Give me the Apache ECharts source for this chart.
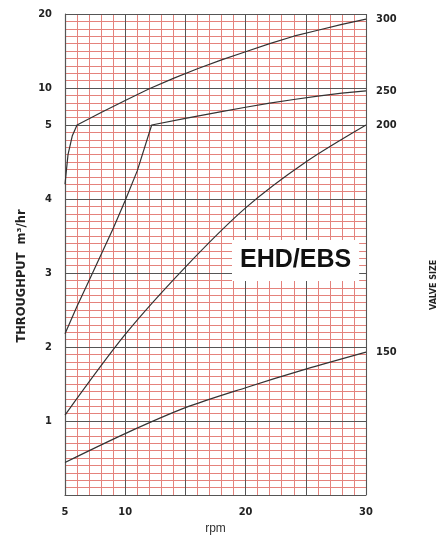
<!DOCTYPE html>
<html><head><meta charset="utf-8">
<script src="https://cdn.jsdelivr.net/npm/echarts@6/dist/echarts.min.js"></script>
<style>html,body{margin:0;padding:0;background:#fff}#c{width:441px;height:543px}</style>
</head><body><div id="c"></div>
<script>
// rpm values and throughput (m³/hr) for each valve size
const rpm300 = [5, 5.25, 5.6, 6, 8, 10, 12, 14, 16, 18, 20, 22, 24, 26, 28, 30];
const flow300 = [4.2, 4.6, 4.85, 5.0, 6.7, 8.3, 9.9, 11.3, 12.6, 13.8, 14.9, 16.0, 17.0, 17.8, 18.6, 19.3];
const rpm250 = [5, 6, 7, 8, 9, 10, 11, 12.2, 15, 18, 20, 22, 24, 26, 28, 30];
const flow250 = [2.18, 2.55, 2.9, 3.25, 3.6, 3.98, 4.38, 5.0, 5.9, 6.8, 7.4, 7.95, 8.45, 8.9, 9.3, 9.6];
const rpm200 = [5, 10, 15, 20, 25, 30];
const flow200 = [1.08, 2.17, 3.08, 3.88, 4.5, 5.0];
const rpm150 = [5, 10, 15, 20, 25, 30];
const flow150 = [0.44, 0.83, 1.18, 1.45, 1.7, 1.93];
const sizes = ['300', '250', '200', '150'];
const xTickLabels = [5, 10, 20, 30];
const yTickLabels = [1, 2, 3, 4, 5, 10, 20];
const majorFlows = [1, 2, 3, 4, 5, 10, 20];

// chart paper scale: linear 1/unit up to 5, then 0.1/unit above 5
function toScale(v) { return v <= 5 ? v : 5 + (v - 5) / 10; }
function fromScale(p) { return p <= 5 ? p : 5 + (p - 5) * 10; }

const FONT = "'Liberation Sans Narrow', 'DejaVu Sans Condensed', sans-serif";
const RED = '#e4827c';
const DARK = '#555';

function mk(name, xs, ys, smooth) {
  return {
    type: 'line', name: name, xAxisIndex: 0, yAxisIndex: 0,
    data: xs.map((x, i) => [x, toScale(ys[i])]),
    showSymbol: false, symbol: 'none', silent: true,
    lineStyle: { color: '#333', width: 1.2 },
    smooth: smooth,
    endLabel: { show: true, formatter: name, color: '#222', fontFamily: FONT, fontWeight: 'bold', fontSize: 11, distance: 10 },
    z: 5
  };
}

const chart = echarts.init(document.getElementById('c'));
const option = {
  animation: false,
  grid: { left: 65, top: 14, width: 301, height: 481, containLabel: false },
  xAxis: [
    { type: 'value', min: 5, max: 30, interval: 5,
      axisLine: { show: true, lineStyle: { color: DARK, width: 1.2 } },
      axisTick: { show: false },
      axisLabel: { margin: 12, color: '#222', fontFamily: FONT, fontWeight: 'bold', fontSize: 11,
        formatter: v => xTickLabels.indexOf(v) >= 0 ? String(v) : '' },
      splitLine: { show: true, lineStyle: { color: DARK, width: 1 } },
      name: 'rpm', nameLocation: 'middle', nameGap: 24,
      nameTextStyle: { color: '#333', fontFamily: "'Liberation Sans', sans-serif", fontSize: 12 }, z: 3 },
    { type: 'value', min: 5, max: 30, interval: 1, show: true,
      axisLine: { show: false }, axisTick: { show: false }, axisLabel: { show: false },
      splitLine: { show: true, lineStyle: { color: RED, width: 1 } }, z: 1 }
  ],
  yAxis: [
    { type: 'value', min: 0, max: 6.5, interval: 0.5,
      axisLine: { show: true, lineStyle: { color: DARK, width: 1.2 } },
      axisTick: { show: false },
      axisLabel: { margin: 13, color: '#222', fontFamily: FONT, fontWeight: 'bold', fontSize: 11,
        formatter: p => { const v = Math.round(fromScale(p) * 100) / 100; return (p > 0 && yTickLabels.indexOf(v) >= 0 && Math.abs(toScale(v) - p) < 1e-6) ? String(v) : ''; } },
      splitLine: { show: false } },
    { type: 'value', min: 0, max: 6.5, interval: 0.1, show: true,
      axisLine: { show: false }, axisTick: { show: false }, axisLabel: { show: false },
      splitLine: { show: true, lineStyle: { color: RED, width: 1 } } }
  ],
  series: [
    Object.assign(mk(sizes[0], rpm300, flow300, false), {
      markLine: { silent: true, symbol: 'none', label: { show: false },
        lineStyle: { color: DARK, width: 1.1, type: 'solid' },
        data: majorFlows.map(v => ({ yAxis: toScale(v) })).concat([{ xAxis: 30 }]) } }),
    mk(sizes[1], rpm250, flow250, false),
    mk(sizes[2], rpm200, flow200, 0.3),
    mk(sizes[3], rpm150, flow150, 0.3)
  ],
  graphic: [
    { type: 'text', left: 232, top: 240, z: 10,
      style: { text: 'EHD/EBS', fill: '#111', font: "bold 25px 'Liberation Sans Narrow', sans-serif",
        backgroundColor: '#fff', padding: [8, 8, 8, 8] } },
    { type: 'text', x: 22, y: 276, rotation: Math.PI / 2, z: 10,
      style: { text: 'THROUGHPUT  m³/hr', fill: '#222', font: "bold 11.5px 'DejaVu Sans', sans-serif",
        align: 'center', verticalAlign: 'middle' } },
    { type: 'text', x: 430, y: 310, rotation: Math.PI / 2, z: 10,
      style: { text: 'VALVE SIZE', fill: '#222', font: "bold 8px 'DejaVu Sans', sans-serif" } }
  ]
};
chart.setOption(option);
</script></body></html>
